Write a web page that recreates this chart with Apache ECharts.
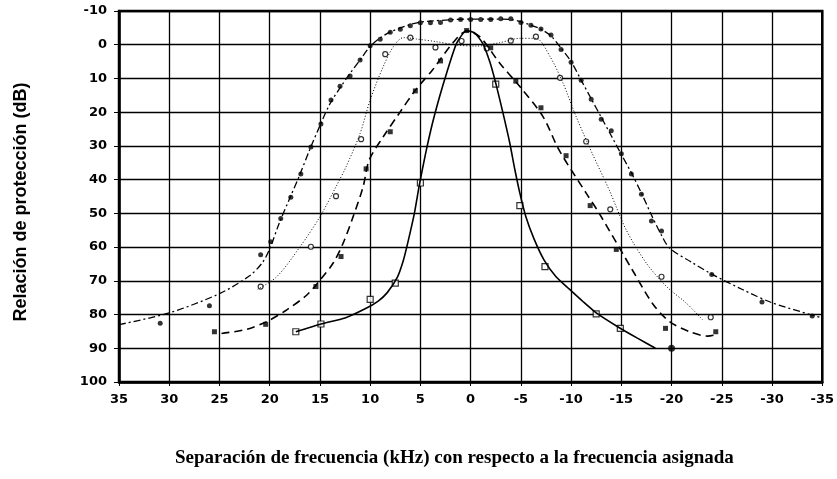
<!DOCTYPE html>
<html>
<head>
<meta charset="utf-8">
<script src="https://cdn.jsdelivr.net/npm/echarts@6/dist/echarts.min.js"></script>
<style>
  html, body { margin: 0; padding: 0; background: #fff; }
  #main { width: 837px; height: 479px; }
</style>
</head>
<body>
<div id="main"></div>
<script>
// curva punto-raya (círculos llenos)
const curveA = [[35,83],[30,79.5],[25,73.8],[22,68.5],[20.7,64.5],[20,60.5],[19,52.5],[18,45.5],[17,38.5],[16,31],[15,24],[14,17.5],[13,12.8],[12,8.5],[11,4.5],[10,0.5],[9,-2],[8,-3.8],[7,-5],[6,-6],[5,-6.7],[4,-7],[2,-7.4],[0,-7.6],[-2,-7.6],[-4,-7.5],[-5,-6.8],[-6,-5.8],[-7,-4.6],[-8,-2.6],[-9,1],[-10,5],[-11,10.5],[-12,16],[-13,21.5],[-14,27],[-15,32.5],[-16,38],[-17,44],[-18,50.5],[-19,56.5],[-19.8,60.3],[-22,64.5],[-24,68],[-27,72.5],[-30,76.5],[-35,81]];
const pointsA = [[30.9,82.6],[26,77.4],[20.9,62.3],[19.9,58.4],[18.9,51.5],[17.9,45.2],[16.9,38.3],[15.9,30.3],[14.9,23.5],[13.9,16.4],[13,12.3],[12,9.3],[11,4.5],[10,0.3],[9,-1.6],[8,-3.7],[7,-4.6],[6,-5.6],[5,-6.5],[4,-6.5],[3,-6.6],[2,-7.3],[1,-7.5],[0,-7.5],[-1,-7.5],[-2,-7.5],[-3,-7.7],[-4,-7.7],[-5,-6.6],[-6,-5.8],[-7,-4.7],[-8,-2.9],[-9,1.4],[-10,5.2],[-11,10.5],[-12,16.2],[-13,22.1],[-14,25.5],[-15,32.3],[-16,38.3],[-17,44.3],[-18,52.3],[-19,55.2],[-24,68.1],[-29,76.3],[-34,80.4]];

// curva punteada (círculos vacíos)
const curveB = [[21.2,72.5],[19.3,68.8],[17,60],[15,51],[13.4,42.1],[12.4,36.2],[11,26.3],[10,16.4],[8.7,6.5],[7.7,0.6],[6.7,-2.1],[5.4,-1.7],[3.4,-0.9],[1.4,0.1],[-0.6,0.4],[-2.9,-0.6],[-4.9,-1.9],[-6.5,-1.9],[-7.9,3.5],[-9.2,11.4],[-10.5,21.3],[-12.1,32.2],[-13.8,43.1],[-15.5,55],[-17.5,64.8],[-19.5,71.7],[-21.5,76.7],[-23.1,81.6]];
const pointsB = [[20.9,71.7],[15.9,59.9],[13.4,44.9],[10.9,28],[8.5,2.8],[6,-2.1],[3.5,0.8],[0.9,-1.1],[-1.6,1.1],[-4,-1.2],[-6.5,-2.4],[-8.9,9.8],[-11.5,28.7],[-13.9,48.8],[-19,68.8],[-23.9,80.8]];

// curva de trazos (cuadrados llenos)
const curveC = [[24.8,85.6],[22.3,84.4],[20.3,82.1],[18.3,78.6],[16.3,74.2],[15,69.8],[13.7,64.8],[12.7,58.9],[11.7,51],[10.7,42.1],[10.1,34.2],[8.7,27.3],[7.1,20.3],[5.5,13.5],[3.8,7.5],[1.8,-0.4],[0.4,-4],[-0.9,-2.4],[-2.9,5.5],[-4.9,12.4],[-7.2,21.3],[-8.8,31.2],[-11.5,44],[-12.8,50],[-16.1,66.8],[-18.1,76.7],[-19.8,82.1],[-21.8,85.1],[-23.6,86.4],[-24.4,86]];
const pointsC = [[25.5,85.1],[20.4,82.9],[15.4,71.7],[12.9,62.8],[10.4,36.8],[8,25.8],[5.5,13.7],[3,4.8],[0.4,-4.2],[-2,0.9],[-4.5,10.8],[-7,18.7],[-9.5,32.9],[-11.9,47.7],[-14.5,60.7],[-19.4,84.1],[-24.4,85.1]];

// curva continua (cuadrados vacíos)
const curveD = [[17.4,85.1],[14.9,82.8],[12.5,81],[10.5,78.3],[9.2,76],[8.3,73.5],[7.3,69],[6.7,64],[6.2,58],[5.6,50],[5.1,41.5],[4.5,32.5],[3.8,23.3],[3.1,15.5],[2.4,8.5],[1.4,-0.4],[0.4,-4.2],[-0.4,-3.5],[-1.2,-0.4],[-1.9,5],[-2.5,11.4],[-3.2,20],[-3.9,29.2],[-4.4,37],[-4.9,44],[-5.5,51],[-6.3,57.5],[-7.3,63.8],[-8.5,68.8],[-9.8,72.4],[-11.2,76.2],[-12.5,79.5],[-14.8,83.9],[-16.6,87],[-18.4,90]];
const pointsD = [[17.4,85.1],[14.9,82.8],[10,75.5],[7.5,70.7],[5,41],[-2.5,11.7],[-4.9,47.7],[-7.4,65.8],[-12.5,79.8],[-14.9,84.1]];
const extraDot = [[-20,90]];

const xTicks = { min: -35, max: 35, step: 5 };
const yTicks = { min: -10, max: 100, step: 10 };

const chart = echarts.init(document.getElementById('main'));

const lbl = { color: '#000', fontFamily: 'DejaVu Sans', fontWeight: 'bold', fontSize: 13 };

chart.setOption({
  animation: false,
  backgroundColor: '#fff',
  grid: { left: 119, top: 11, right: 14, bottom: 97, show: true, borderColor: '#000', borderWidth: 2.5 },
  xAxis: {
    type: 'value', inverse: true,
    min: xTicks.min, max: xTicks.max, interval: xTicks.step,
    axisLine: { show: true, onZero: false, lineStyle: { color: '#000', width: 2.5 } },
    axisTick: { show: true, length: 4, lineStyle: { color: '#000' } },
    axisLabel: Object.assign({ margin: 11 }, lbl),
    splitLine: { show: true, lineStyle: { color: '#000', width: 1.3 } }
  },
  yAxis: {
    type: 'value', inverse: true,
    min: yTicks.min, max: yTicks.max, interval: yTicks.step,
    axisLine: { show: true, onZero: false, lineStyle: { color: '#000', width: 2.5 } },
    axisTick: { show: true, length: 5, lineStyle: { color: '#000' } },
    axisLabel: Object.assign({ margin: 12 }, lbl),
    splitLine: { show: true, lineStyle: { color: '#000', width: 1.3 } }
  },
  graphic: [
    { type: 'text', x: 21, y: 202, rotation: Math.PI / 2,
      style: { text: 'Relación de protección (dB)', fill: '#000',
        font: 'bold 18px "Liberation Sans"', textAlign: 'center', textVerticalAlign: 'middle' } },
    { type: 'text', x: 175, y: 458,
      style: { text: 'Separación de frecuencia (kHz) con respecto a la frecuencia asignada',
        fill: '#000', font: 'bold 19px "Liberation Serif"', textVerticalAlign: 'middle' } }
  ],
  series: [
    { type: 'line', data: curveA, smooth: 0.3, showSymbol: false, silent: true,
      lineStyle: { color: '#000', width: 1.3, type: [7, 3, 2, 3] } },
    { type: 'scatter', data: pointsA, symbol: 'circle', symbolSize: 5, itemStyle: { color: '#000' } },
    { type: 'line', data: curveB, smooth: 0.3, showSymbol: false, silent: true,
      lineStyle: { color: '#000', width: 1, type: [1, 2] } },
    { type: 'scatter', data: pointsB, symbol: 'circle', symbolSize: 5,
      itemStyle: { color: '#fff', borderColor: '#000', borderWidth: 1.2 } },
    { type: 'line', data: curveC, smooth: 0.3, showSymbol: false, silent: true,
      lineStyle: { color: '#000', width: 1.6, type: [8, 5] } },
    { type: 'scatter', data: pointsC, symbol: 'rect', symbolSize: 5, itemStyle: { color: '#000' } },
    { type: 'line', data: curveD, smooth: 0.2, showSymbol: false, silent: true,
      lineStyle: { color: '#000', width: 1.6 } },
    { type: 'scatter', data: pointsD, symbol: 'rect', symbolSize: 6,
      itemStyle: { color: '#fff', borderColor: '#000', borderWidth: 1.2 } },
    { type: 'scatter', data: extraDot, symbol: 'circle', symbolSize: 7, itemStyle: { color: '#000' } }
  ]
});
</script>
</body>
</html>
